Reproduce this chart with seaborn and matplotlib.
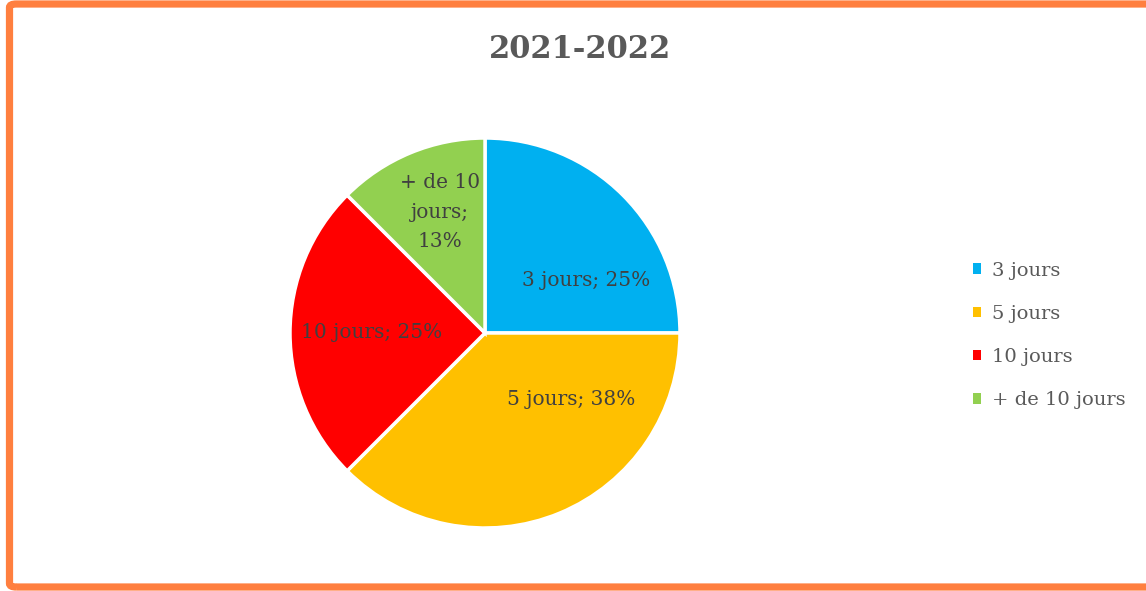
import matplotlib.pyplot as plt
import seaborn as sns
from matplotlib.patches import FancyBboxPatch

# data
categories = ["3 jours", "5 jours", "10 jours", "+ de 10 jours"]
counts = [2, 3, 2, 1]
slice_labels = ["3 jours; 25%", "5 jours; 38%", "10 jours; 25%", "+ de 10\njours;\n13%"]
title = "2021-2022"

colors = sns.color_palette(["#00B0F0", "#FFC000", "#FF0000", "#92D050"])
label_pos = [(0.52, 0.27), (0.44, -0.34), (-0.58, 0.0), (-0.23, 0.62)]

sns.set_theme(style="white")
plt.rcParams["font.family"] = ["DejaVu Serif"]

fig = plt.figure(figsize=(11.46, 5.91), dpi=100)

# orange frame
frame = FancyBboxPatch((9.5 / 1146, 4 / 591), 1.2, 583 / 591,
                       boxstyle="round,pad=0,rounding_size=0.006",
                       transform=fig.transFigure, fill=False,
                       edgecolor="#FF7F3F", linewidth=5.2, clip_on=False)
fig.patches.append(frame)

ax = fig.add_axes([(485 - 195) / 1146, (591 - 333 - 195) / 591, 390 / 1146, 390 / 591])
wedges, _ = ax.pie(counts, colors=colors, startangle=90, counterclock=False,
                   wedgeprops=dict(edgecolor="white", linewidth=2.5))
ax.set_xlim(-1, 1)
ax.set_ylim(-1, 1)
ax.set_aspect("equal")
ax.axis("off")

for txt, (x, y) in zip(slice_labels, label_pos):
    ax.text(x, y, txt, ha="center", va="center", fontsize=14.5,
            color="#404040", linespacing=1.7)

fig.text(580 / 1146, 1 - 50 / 591, title, ha="center", va="center",
         fontsize=22, fontweight="bold", color="#595959")

leg = fig.legend(wedges, categories, loc="upper left",
                 bbox_to_anchor=(955 / 1146, 1 - 244 / 591),
                 frameon=False, fontsize=14, labelcolor="#595959",
                 handlelength=0.45, handleheight=0.45, handletextpad=0.55,
                 labelspacing=1.3)
for h in leg.legend_handles:
    h.set_edgecolor("none")

fig.savefig("out.png", dpi=100)
